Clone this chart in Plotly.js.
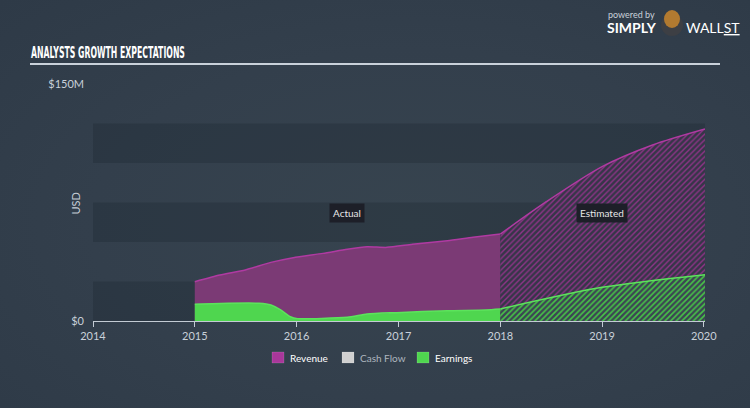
<!DOCTYPE html>
<html>
<head>
<meta charset="utf-8">
<script src="https://cdn.plot.ly/plotly-3.0.1.min.js"></script>
<style>
html,body{margin:0;padding:0;width:750px;height:408px;overflow:hidden;
background:radial-gradient(ellipse at 55% 55%, #37444f 0%, #333f4c 55%, #2e3a47 100%);}
#chart{width:750px;height:408px;}
</style>
</head>
<body>
<div id="chart"></div>
<script>
// Revenue (USD millions)
const revActualDates = ['2015-01-01','2015-04-01','2015-07-01','2015-10-01','2015-12-20','2016-04-05','2016-07-01','2016-09-10','2016-11-20','2017-02-20','2017-06-25','2017-09-25','2018-01-01'];
const revActualVals  = [24.9, 29.1, 32.3, 37.1, 40.1, 42.8, 45.4, 47.0, 46.6, 48.5, 50.8, 53.0, 55.0];
const revEstDates = ['2018-01-01','2018-06-15','2019-01-01','2019-07-01','2020-01-05'];
const revEstVals  = [55.0, 75.5, 97.7, 111.4, 121.5];
// Earnings (USD millions)
const earnActualDates = ['2015-01-01','2015-05-01','2015-08-20','2015-10-01','2015-11-05','2015-12-10','2016-01-05','2016-07-01','2016-09-10','2016-12-25','2017-06-25','2017-11-10','2018-01-01'];
const earnActualVals  = [10.6, 11.2, 11.2, 10.1, 7.0, 2.7, 1.5, 2.3, 4.4, 5.3, 6.5, 7.0, 7.6];
const earnEstDates = ['2018-01-01','2019-01-01','2020-01-05'];
const earnEstVals  = [7.6, 21.3, 29.3];
// Axis ticks
const xTickVals = ['2014-01-01','2015-01-01','2016-01-01','2017-01-01','2018-01-01','2019-01-01','2020-01-01'];
const xTickText = ['2014','2015','2016','2017','2018','2019','2020'];
const yTickVals = [0, 150];
const yTickText = ['$0', '$150M'];
const bandRanges = [[0,25],[50,75],[100,125]];
const legendItems = ['Revenue','Cash Flow','Earnings'];
const legendColors = ['#a8379a','#d0d0d0','#4fd64f'];

const revLine = '#b03aa2', revFill = 'rgba(124,58,118,0.98)';
const earnLine = '#5ce35c', earnFill = '#4fd64f';

const traces = [
  {x: revActualDates, y: revActualVals, type:'scatter', mode:'lines', line:{color:revLine, width:1.5, shape:'spline', smoothing:0.6}, fill:'tozeroy', fillcolor:revFill, hoverinfo:'skip'},
  {x: revEstDates, y: revEstVals, type:'scatter', mode:'lines', line:{color:revLine, width:1.5, shape:'spline', smoothing:0.8}, fill:'tozeroy', fillcolor:'rgba(0,0,0,0)',
    fillpattern:{shape:'/', size:4, solidity:0.35, fgcolor:'#8f3388', bgcolor:'#363648', fillmode:'replace'}, hoverinfo:'skip'},
  {x: earnActualDates, y: earnActualVals, type:'scatter', mode:'lines', line:{color:earnLine, width:1.5, shape:'spline', smoothing:0.6}, fill:'tozeroy', fillcolor:earnFill, hoverinfo:'skip'},
  {x: earnEstDates, y: earnEstVals, type:'scatter', mode:'lines', line:{color:earnLine, width:1.5, shape:'spline', smoothing:0.8}, fill:'tozeroy', fillcolor:'rgba(0,0,0,0)',
    fillpattern:{shape:'/', size:4, solidity:0.4, fgcolor:'#47c447', bgcolor:'#3c4453', fillmode:'replace'}, hoverinfo:'skip'}
];

const P = (px) => (px-93)/612;   // paper x from pixel
const Q = (py) => (321-py)/237;  // paper y from pixel

const shapes = bandRanges.map(b => ({type:'rect', xref:'paper', yref:'y', x0:0, x1:1, y0:b[0], y1:b[1], fillcolor:'rgba(20,28,38,0.22)', line:{width:0}, layer:'below'}));
// title underline
shapes.push({type:'line', xref:'paper', yref:'paper', x0:P(30), x1:P(720), y0:Q(64), y1:Q(64), line:{color:'#c9d1da', width:2}});
// legend swatches
const legX = [272, 342, 417];
legendItems.forEach((n,i)=>{
  shapes.push({type:'rect', xref:'paper', yref:'paper', x0:P(legX[i]), x1:P(legX[i]+12), y0:Q(352), y1:Q(363), fillcolor:legendColors[i], line:{color:'rgba(255,255,255,0.25)', width:0.5}});
});
// logo head
shapes.push({type:'circle', xref:'paper', yref:'paper', x0:P(661), x1:P(683), y0:Q(36), y1:Q(14), fillcolor:'#3d3f44', line:{width:0}});
shapes.push({type:'circle', xref:'paper', yref:'paper', x0:P(664), x1:P(680), y0:Q(28), y1:Q(10), fillcolor:'#b27a30', line:{width:0}});

const annotations = [
  {xref:'paper', yref:'paper', x:P(29), y:Q(53), xanchor:'left', yanchor:'middle', text:'<b>ANALYSTS GROWTH EXPECTATIONS</b>', showarrow:false,
    font:{family:'DejaVu Sans, sans-serif', size:15, color:'#ffffff'}},
  {xref:'paper', yref:'paper', x:P(66), y:Q(204), text:'USD', textangle:-90, showarrow:false, font:{family:'Lato, sans-serif', size:11, color:'#c3cbd4'}},
  {x:'2016-07-01', y:68.4, text:'Actual', showarrow:false, bgcolor:'#1d1f28', borderpad:3, font:{family:'Lato, sans-serif', size:10, color:'#e6e6e6'}},
  {x:'2019-01-01', y:68.4, text:'Estimated', showarrow:false, bgcolor:'#1d1f28', borderpad:3, font:{family:'Lato, sans-serif', size:10, color:'#e6e6e6'}},
  {xref:'paper', yref:'paper', x:P(606), y:Q(14), xanchor:'left', yanchor:'middle', text:'powered by', showarrow:false, font:{family:'Lato, sans-serif', size:9, color:'#c9d1da'}},
  {xref:'paper', yref:'paper', x:P(605), y:Q(27), xanchor:'left', yanchor:'middle', text:'<b>SIMPLY</b>', showarrow:false, font:{family:'Lato, sans-serif', size:14, color:'#ffffff'}},
  {xref:'paper', yref:'paper', x:P(684), y:Q(27), xanchor:'left', yanchor:'middle', text:'WALL<u>ST</u>', showarrow:false, font:{family:'Lato, sans-serif', size:14, color:'#ffffff'}}
];
legendItems.forEach((n,i)=>{
  annotations.push({xref:'paper', yref:'paper', x:P(legX[i]+16), y:Q(358), xanchor:'left', yanchor:'middle', text:n, showarrow:false,
    font:{family:'Lato, sans-serif', size:10, color: i===1 ? '#aeb6bf' : '#ffffff'}});
});

const layout = {
  width:750, height:408,
  margin:{l:93, r:45, t:84, b:87},
  paper_bgcolor:'rgba(0,0,0,0)', plot_bgcolor:'rgba(0,0,0,0)',
  showlegend:false,
  xaxis:{type:'date', range:['2014-01-01','2020-01-05'], tickvals:xTickVals, ticktext:xTickText, showgrid:false, zeroline:false,
    showline:true, linecolor:'#c3cbd4', linewidth:1, ticks:'outside', ticklen:5, tickcolor:'#c3cbd4',
    tickfont:{family:'Lato, sans-serif', size:11, color:'#c9d1da'}, fixedrange:true},
  yaxis:{range:[0,150], tickvals:yTickVals, ticktext:yTickText, showgrid:false, zeroline:false, showline:false, ticks:'', ticklabelstandoff:8,
    tickfont:{family:'Lato, sans-serif', size:11, color:'#c9d1da'}, fixedrange:true},
  shapes:shapes, annotations:annotations
};
Plotly.newPlot('chart', traces, layout, {staticPlot:true, displayModeBar:false}).then(() => {
  // condense the heading text horizontally to mimic the narrow display face
  const t = document.querySelector('.annotation .annotation-text');
  if (t) {
    const bb = t.getBBox();
    const s = 154 / bb.width;
    t.setAttribute('transform', `translate(${bb.x},0) scale(${s},1) translate(${-bb.x},0)`);
  }
});
</script>
</body>
</html>
